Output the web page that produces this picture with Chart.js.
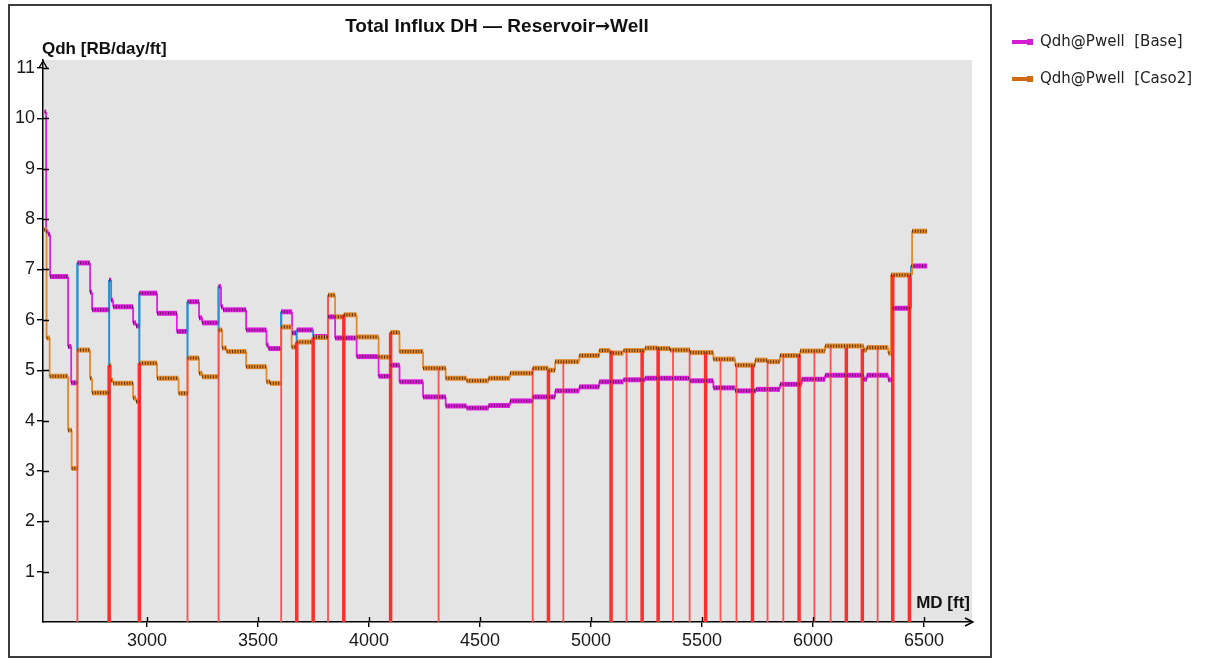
<!DOCTYPE html>
<html>
<head>
<meta charset="utf-8">
<title>Total Influx DH</title>
<script src="https://cdn.jsdelivr.net/npm/chart.js@4.4.1/dist/chart.umd.min.js"></script>
<style>
  html, body { margin: 0; padding: 0; background: #fff; }
  #wrap { width: 1212px; height: 660px; }
</style>
</head>
<body>
<div id="wrap"><canvas id="chartInflux" width="1212" height="660"></canvas></div>
<script>
// ejes
const xTicks = [3000, 3500, 4000, 4500, 5000, 5500, 6000, 6500];
const yTicks = [1, 2, 3, 4, 5, 6, 7, 8, 9, 10, 11];
const mdFin = 6514;

// Qdh@Pwell [Base] - escalones (MD inicio, valor)
const baseMd = [2538, 2545, 2555, 2563, 2644, 2658, 2686, 2743, 2752, 2829, 2838, 2847, 2937, 2950, 2965,
  3045, 3134, 3182, 3234, 3248, 3322, 3333, 3342, 3446, 3538, 3547, 3604, 3653, 3674, 3748, 3815, 3847,
  3944, 4043, 4097, 4137, 4243, 4345, 4439, 4538, 4635, 4737, 4838, 4947, 5037, 5146, 5243, 5446, 5551,
  5649, 5743, 5851, 5949, 6054, 6227, 6242, 6339, 6359, 6442];
const baseQdh = [10.13, 7.75, 7.70, 6.86, 5.47, 4.75, 7.13, 6.55, 6.20, 6.79, 6.39, 6.26, 5.94, 5.88, 6.53,
  6.13, 5.77, 6.36, 6.04, 5.94, 6.66, 6.26, 6.20, 5.80, 5.50, 5.43, 6.16, 5.74, 5.80, 5.67, 6.06, 5.64,
  5.27, 4.88, 5.10, 4.77, 4.47, 4.29, 4.25, 4.30, 4.39, 4.47, 4.59, 4.67, 4.77, 4.81, 4.84, 4.79, 4.65,
  4.59, 4.62, 4.72, 4.82, 4.90, 4.82, 4.90, 4.81, 6.23, 7.07];

// Qdh@Pwell [Caso2]
const casoMd = [2536, 2547, 2561, 2644, 2660, 2686, 2743, 2752, 2829, 2838, 2847, 2937, 2950, 2965,
  3045, 3142, 3182, 3234, 3248, 3322, 3338, 3358, 3446, 3538, 3554, 3604, 3651, 3674, 3748, 3815, 3847,
  3886, 3944, 4043, 4097, 4137, 4243, 4345, 4439, 4538, 4635, 4737, 4808, 4838, 4947, 5037, 5086, 5146,
  5243, 5302, 5356, 5446, 5551, 5649, 5739, 5795, 5851, 5942, 6054, 6227, 6242, 6339, 6351, 6446];
const casoQdh = [7.79, 5.64, 4.88, 3.81, 3.05, 5.40, 4.84, 4.55, 5.10, 4.80, 4.74, 4.45, 4.38, 5.14,
  4.84, 4.54, 5.24, 4.94, 4.87, 5.80, 5.44, 5.37, 5.07, 4.77, 4.74, 5.86, 5.46, 5.56, 5.65, 6.49, 6.06,
  6.10, 5.66, 5.26, 5.75, 5.37, 5.04, 4.84, 4.79, 4.84, 4.94, 5.04, 5.00, 5.17, 5.29, 5.39, 5.34, 5.39,
  5.44, 5.43, 5.40, 5.35, 5.22, 5.10, 5.20, 5.17, 5.29, 5.38, 5.48, 5.40, 5.45, 5.34, 6.89, 7.76];

// lineas rojas verticales
const perfFinaMd = [2686, 3182, 3322, 3604, 3815, 4313, 4737, 4875, 5160, 5369, 5444, 5583, 5655, 5795, 5866, 6006, 6079, 6291];
const perfFinaTope = [5.40, 5.24, 5.80, 5.86, 6.49, 5.04, 5.04, 5.17, 5.39, 5.40, 5.40, 5.22, 5.10, 5.17, 5.29, 5.38, 5.48, 5.45];
const perfGruesaMd = [2829, 2965, 3674, 3748, 3886, 4097, 4808, 5090, 5230, 5302, 5516, 5727, 5937, 6150, 6222, 6359, 6434];
const perfGruesaTope = [5.10, 5.14, 5.56, 5.65, 6.10, 5.75, 5.00, 5.39, 5.39, 5.44, 5.35, 5.10, 5.30, 5.45, 5.42, 6.89, 6.89];

const MAGENTA = "#E21EE2";
const NARANJA = "#E28A2E";
const AZUL = "#2A90D2";

function puntosEscalon(md, q, fin) {
  const pts = [];
  md.forEach((x, i) => {
    if (i > 0) pts.push({ x: x, y: q[i - 1] });
    pts.push({ x: x, y: q[i] });
  });
  pts.push({ x: fin, y: q[q.length - 1] });
  return pts;
}

function puntosVerticales(md, tope) {
  const pts = [];
  md.forEach((x, i) => {
    pts.push({ x: x, y: 0 });
    pts.push({ x: x, y: tope[i] });
    pts.push({ x: x, y: null });
  });
  return pts;
}

// tramo azul: desde el tope de la linea roja hasta el nuevo valor de Base
function puntosConexion(mdPerf, tope) {
  const pts = [];
  mdPerf.forEach((x, i) => {
    const k = baseMd.findIndex(m => Math.abs(m - x) < 10);
    if (k > 0 && baseQdh[k] > tope[i]) {
      pts.push({ x: baseMd[k], y: tope[i] });
      pts.push({ x: baseMd[k], y: baseQdh[k] });
      pts.push({ x: baseMd[k], y: null });
    }
  });
  return pts;
}

const todasPerf = perfFinaMd.concat(perfGruesaMd);
const esVertical = c => c.p0.parsed.x === c.p1.parsed.x;
const cercaPerf = x => todasPerf.some(p => Math.abs(p - x) < 10);

const basePts = puntosEscalon(baseMd, baseQdh, mdFin);
const casoPts = puntosEscalon(casoMd, casoQdh, mdFin);
const conexionPts = puntosConexion(perfFinaMd, perfFinaTope).concat(puntosConexion(perfGruesaMd, perfGruesaTope));

const fondoPlugin = {
  id: "fondo",
  beforeDraw(chart) {
    const { ctx, chartArea: a } = chart;
    ctx.save();
    ctx.fillStyle = "#fff";
    ctx.fillRect(0, 0, chart.width, chart.height);
    ctx.fillStyle = "#E4E4E4";
    ctx.fillRect(a.left, a.top, a.right - a.left, a.bottom - a.top);
    ctx.strokeStyle = "#3c3c3c";
    ctx.lineWidth = 2;
    ctx.strokeRect(9, 5, 982, 652);
    ctx.restore();
  }
};

function dibujarTitulo(ctx) {
  const fTexto = 'bold 19px "Liberation Sans", Arial, sans-serif';
  const fFlecha = 'bold 18px "DejaVu Sans", sans-serif';
  const partes = [
    ["Total Influx DH \u2014 Reservoir", fTexto],
    ["\u2192", fFlecha],
    ["Well", fTexto]
  ];
  let total = 0;
  partes.forEach(p => { ctx.font = p[1]; total += ctx.measureText(p[0]).width; });
  let x = 497 - total / 2;
  ctx.textAlign = "left";
  partes.forEach(p => {
    ctx.font = p[1];
    ctx.fillText(p[0], x, 32);
    x += ctx.measureText(p[0]).width;
  });
}

const ejesPlugin = {
  id: "ejes",
  afterDraw(chart) {
    const { ctx, chartArea: a } = chart;
    const sx = chart.scales.x, sy = chart.scales.y;
    ctx.save();
    ctx.strokeStyle = "#000";
    ctx.lineWidth = 1.4;
    ctx.beginPath();
    yTicks.forEach(v => {
      const py = Math.round(sy.getPixelForValue(v)) + 0.5;
      ctx.moveTo(a.left, py);
      ctx.lineTo(a.left + 6, py);
    });
    xTicks.forEach(v => {
      const px = Math.round(sx.getPixelForValue(v)) + 0.5;
      ctx.moveTo(px, a.bottom);
      ctx.lineTo(px, a.bottom - 5);
    });
    // flechas
    ctx.moveTo(a.left - 4, a.top + 8);
    ctx.lineTo(a.left, a.top + 1);
    ctx.lineTo(a.left + 4, a.top + 8);
    ctx.moveTo(a.right - 7, a.bottom - 4);
    ctx.lineTo(a.right + 1, a.bottom);
    ctx.lineTo(a.right - 7, a.bottom + 4);
    ctx.stroke();

    ctx.fillStyle = "#111";
    ctx.textBaseline = "alphabetic";
    dibujarTitulo(ctx);

    ctx.font = 'bold 17px "Liberation Sans", Arial, sans-serif';
    ctx.textAlign = "left";
    ctx.fillText("Qdh [RB/day/ft]", 42, 54);
    ctx.textAlign = "right";
    ctx.fillText("MD [ft]", 970, 608);

    // leyenda
    const items = [
      ["Qdh@Pwell  [Base]", "#D41ED4", 42],
      ["Qdh@Pwell  [Caso2]", "#D06A12", 79]
    ];
    ctx.font = '15px "DejaVu Sans", sans-serif';
    ctx.textAlign = "left";
    ctx.textBaseline = "middle";
    items.forEach(([txt, col, y]) => {
      ctx.fillStyle = col;
      ctx.fillRect(1012, y - 2, 16, 4);
      ctx.fillRect(1027, y - 3, 6, 6);
      ctx.fillStyle = "#222";
      ctx.fillText(txt, 1040, y);
    });
    ctx.restore();
  }
};

const lineaBase = {
  fill: false, tension: 0, pointRadius: 0, spanGaps: false,
  borderCapStyle: "butt", borderJoinStyle: "miter"
};

new Chart(document.getElementById("chartInflux"), {
  type: "line",
  data: {
    datasets: [
      Object.assign({}, lineaBase, {
        label: "Qdh@Pwell  [Base]",
        data: basePts,
        borderColor: MAGENTA,
        borderWidth: 2,
        order: 7,
        segment: {
          borderWidth: c => esVertical(c) ? 1.8 : 5,
          borderColor: c => esVertical(c) && cercaPerf(c.p0.parsed.x) ? AZUL : MAGENTA
        }
      }),
      Object.assign({}, lineaBase, {
        label: "conexion",
        data: conexionPts,
        borderColor: AZUL,
        borderWidth: 2,
        order: 6
      }),
      Object.assign({}, lineaBase, {
        label: "Qdh@Pwell  [Caso2]",
        data: casoPts,
        borderColor: NARANJA,
        borderWidth: 2,
        order: 5,
        segment: {
          borderWidth: c => esVertical(c) ? 1.8 : 5
        }
      }),
      Object.assign({}, lineaBase, {
        label: "perf fina",
        data: puntosVerticales(perfFinaMd, perfFinaTope),
        borderColor: "#FF5050",
        borderWidth: 1.8,
        order: 4
      }),
      Object.assign({}, lineaBase, {
        label: "perf gruesa",
        data: puntosVerticales(perfGruesaMd, perfGruesaTope),
        borderColor: "#FF2E2E",
        borderWidth: 3.5,
        order: 3
      }),
      Object.assign({}, lineaBase, {
        label: "trama base",
        data: basePts,
        borderWidth: 3,
        borderDash: [1, 1.7],
        borderColor: "#5E1058",
        order: 2,
        segment: {
          borderColor: c => esVertical(c) ? "rgba(0,0,0,0)" : "#5E1058"
        }
      }),
      Object.assign({}, lineaBase, {
        label: "trama caso2",
        data: casoPts,
        borderWidth: 3,
        borderDash: [1, 1.7],
        borderColor: "#5A3008",
        order: 1,
        segment: {
          borderColor: c => esVertical(c) ? "rgba(0,0,0,0)" : "#5A3008"
        }
      })
    ]
  },
  options: {
    responsive: false,
    animation: false,
    events: [],
    layout: { padding: { left: 8, right: 240, top: 60, bottom: 8 } },
    plugins: {
      legend: { display: false },
      title: { display: false },
      tooltip: { enabled: false }
    },
    scales: {
      x: {
        type: "linear",
        min: 2531,
        max: 6716,
        afterFit: s => { s.height = 30; },
        afterBuildTicks: s => { s.ticks = xTicks.map(v => ({ value: v })); },
        grid: { drawOnChartArea: false, drawTicks: true, tickLength: 5, color: "#000", lineWidth: 1.4 },
        border: { display: true, color: "#000", width: 1.5 },
        ticks: {
          maxRotation: 0,
          autoSkip: false,
          padding: 3,
          color: "#1a1a1a",
          font: { family: '"Liberation Sans", Arial, sans-serif', size: 18 },
          callback: v => String(v)
        }
      },
      y: {
        type: "linear",
        min: 0,
        max: 11.16,
        afterFit: s => { s.width = 35; },
        afterBuildTicks: s => { s.ticks = yTicks.map(v => ({ value: v })); },
        grid: { drawOnChartArea: false, drawTicks: true, tickLength: 6, color: "#000", lineWidth: 1.4 },
        border: { display: true, color: "#000", width: 1.5 },
        ticks: {
          padding: 2,
          color: "#1a1a1a",
          font: { family: '"Liberation Sans", Arial, sans-serif', size: 18 },
          callback: v => String(v)
        }
      }
    }
  },
  plugins: [fondoPlugin, ejesPlugin]
});
</script>
</body>
</html>
